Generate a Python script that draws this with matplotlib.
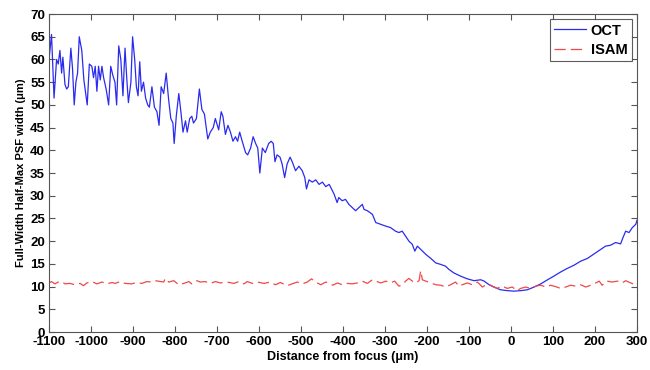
import matplotlib
matplotlib.use("Agg")
import matplotlib.pyplot as plt

oct_x = [-1100, -1094, -1088, -1082, -1078, -1074, -1070, -1067, -1062, -1058, -1054, -1048, -1044,
         -1040, -1036, -1032, -1028, -1022, -1017, -1009, -1004, -998, -994, -990, -986, -982,
         -978, -974, -970, -964, -958, -953, -948, -943, -939, -934, -929, -924, -919, -915,
         -911, -905, -901, -896, -892, -888, -884, -880, -875, -870, -865, -861, -855, -849,
         -843, -838, -833, -827, -821, -815, -810, -805, -802, -797, -791, -786, -781, -775,
         -771, -765, -760, -756, -749, -742, -736, -730, -722, -716, -709, -704, -696, -690,
         -686, -680, -674, -668, -662, -656, -651, -646, -640, -632, -627, -620, -614, -608,
         -603, -598, -592, -585, -577, -571, -566, -562, -557, -550, -545, -539, -533, -526,
         -521, -513, -505, -497, -491, -487, -481, -473, -465, -457, -449, -441, -433,
         -429, -421, -414, -410, -402, -394, -386, -378, -370, -362, -354, -350, -342, -330,
         -322, -310, -298, -287, -275, -267, -259, -251, -243, -235, -229, -223, -215, -203,
         -191, -179, -168, -156, -148, -136, -120, -104, -88, -72, -64, -52, -41, -25, -9,
         7, 23, 39, 55, 71, 87, 102, 118, 134, 150, 166, 182, 198, 214, 225, 237, 249, 261,
         265, 273, 281, 289, 297, 300]
oct_y = [60.0, 65.5, 51.5, 60.0, 59.0, 62.0, 57.0, 60.5, 54.5, 53.5, 54.0, 62.5, 58.0,
         50.0, 55.0, 57.0, 65.0, 62.0, 55.5, 50.0, 59.0, 58.5, 56.0, 58.5, 53.0, 58.5,
         55.5, 58.5, 56.0, 53.5, 50.0, 58.5, 56.5, 55.0, 50.0, 63.0, 60.0, 52.0, 62.5, 56.0,
         50.5, 55.0, 65.0, 60.0, 54.0, 52.0, 59.5, 53.0, 55.0, 51.5, 50.0, 49.5, 54.0, 49.5,
         48.5, 45.5, 54.0, 52.5, 57.0, 51.0, 47.0, 46.0, 41.5, 47.5, 52.5, 48.5, 44.0, 46.5,
         44.0, 47.0, 47.5, 46.0, 47.0, 53.5, 49.0, 48.0, 42.5, 44.0, 45.0, 47.0, 44.5, 48.5,
         47.5, 43.5, 45.5, 44.0, 42.0, 43.0, 42.0, 44.0, 42.0, 39.5, 39.0, 40.5, 43.0, 41.5,
         40.5, 35.0, 40.5, 39.5, 41.5, 42.0, 41.5, 37.5, 39.0, 38.5, 37.0, 34.0, 37.0, 38.5,
         37.5, 35.5, 36.5, 35.5, 34.0, 31.5, 33.5, 33.0, 33.5, 32.5, 33.0, 32.0, 32.5,
         31.8, 30.3, 28.5, 29.6, 28.9, 29.2, 28.1, 27.4, 26.7, 27.4, 28.1, 27.0, 26.7, 25.9,
         24.1, 23.7, 23.3, 23.0, 22.2, 21.9, 22.2, 21.1, 20.0, 19.3, 17.8, 18.9, 18.2, 17.1,
         16.2, 15.2, 14.9, 14.5, 13.8, 13.0, 12.3, 11.7, 11.3, 11.5, 11.2, 10.4, 9.9, 9.3, 9.1,
         9.0, 9.1, 9.3, 9.9, 10.6, 11.5, 12.3, 13.2, 14.0, 14.7, 15.6, 16.2, 17.2, 18.2, 18.9,
         19.1, 19.7, 19.4, 20.4, 22.2, 21.9, 23.0, 23.7, 24.6]

isam_x = [-1100, -1094, -1086, -1078, -1070, -1062, -1050, -1038, -1026, -1018, -1010, -998, -986,
          -974, -962, -950, -942, -931, -919, -903, -891, -879, -867, -855, -847, -827, -823,
          -815, -803, -791, -779, -767, -760, -748, -740, -728, -716, -704, -692, -676, -660,
          -648, -636, -628, -616, -604, -588, -573, -561, -549, -533, -521, -509, -497, -485,
          -475, -465, -453, -441, -429, -425, -413, -402, -390, -378, -366, -354, -342, -330,
          -322, -310, -298, -287, -277, -267, -259, -251, -243, -235, -227, -219, -215, -211,
          -203, -191, -179, -167, -156, -144, -132, -124, -116, -104, -92, -80, -68, -56, -44,
          -33, -21, -9, 3, 15, 23, 35, 47, 59, 71, 83, 94, 106, 118, 130, 142, 154, 166, 178,
          190, 202, 210, 217, 229, 241, 253, 265, 273, 285, 297, 300]
isam_y = [10.8, 11.1, 10.6, 11.0, 11.1, 10.6, 10.7, 10.4, 10.7, 10.2, 10.8, 11.1, 10.6,
          11.0, 10.6, 10.9, 10.7, 11.1, 10.7, 10.6, 10.9, 10.7, 11.1, 11.0, 11.3, 11.0, 11.8,
          11.0, 11.3, 10.4, 10.7, 11.1, 10.6, 11.3, 11.0, 11.1, 10.7, 11.1, 10.8, 11.0, 10.7,
          11.1, 10.6, 11.1, 10.7, 11.0, 10.7, 11.0, 10.4, 10.9, 10.2, 10.6, 11.0, 10.6, 11.0,
          11.7, 11.0, 10.4, 11.0, 10.6, 10.3, 10.8, 10.4, 10.7, 10.6, 10.8, 11.2, 10.7, 11.5,
          11.2, 10.8, 11.2, 10.8, 11.2, 10.1, 10.4, 11.2, 11.8, 11.2, 10.8, 11.3, 13.5, 11.5,
          11.2, 10.8, 10.4, 10.3, 9.9, 10.4, 11.0, 10.1, 10.4, 10.8, 10.4, 11.0, 9.9, 10.6, 10.1,
          9.6, 10.1, 9.6, 9.9, 9.1, 9.6, 9.9, 9.6, 10.1, 10.3, 9.9, 10.3, 10.0, 9.6, 9.9, 10.3,
          10.1, 10.4, 9.9, 10.3, 10.8, 11.2, 10.3, 11.2, 11.0, 11.2, 10.8, 11.3, 10.8, 10.4, 10.4]

x_ticks = [-1100, -1000, -900, -800, -700, -600, -500, -400, -300, -200, -100, 0, 100, 200, 300]
y_ticks = [0, 5, 10, 15, 20, 25, 30, 35, 40, 45, 50, 55, 60, 65, 70]

plt.rcParams['font.family'] = ['Liberation Sans', 'DejaVu Sans']
plt.rcParams['axes.unicode_minus'] = False

fig = plt.figure(figsize=(6.5, 3.7), dpi=100)
ax = fig.add_axes([0.0754, 0.1027, 0.9046, 0.8593])

ax.plot(oct_x, oct_y, color='#2b2bf0', lw=0.9, label='OCT')
ax.plot(isam_x, isam_y, color='#f04848', lw=0.9, dashes=(9, 4), label='ISAM')

ax.set_xlim(-1100, 300)
ax.set_ylim(0, 70)
ax.set_xticks(x_ticks)
ax.set_yticks(y_ticks)
ax.tick_params(direction='in', top=True, right=True, length=4, width=0.8,
               labelsize=9.5, pad=3, colors='#555555', labelcolor='black')
for lab in ax.get_xticklabels() + ax.get_yticklabels():
    lab.set_fontweight('bold')
for s in ax.spines.values():
    s.set_color('#555555')
    s.set_linewidth(0.8)

ax.set_xlabel('Distance from focus (μm)', fontsize=9, fontweight='bold', labelpad=2)
ax.set_ylabel('Full-Width Half-Max PSF width (μm)', fontsize=8, fontweight='bold', labelpad=3)

leg = ax.legend(loc='upper right', fontsize=10.5, frameon=True, fancybox=False,
                borderaxespad=0.35, handlelength=2.2, handletextpad=0.3,
                borderpad=0.3, labelspacing=0.35)
leg.get_frame().set_edgecolor('#333333')
leg.get_frame().set_linewidth(0.8)
for t in leg.get_texts():
    t.set_fontweight('bold')

fig.savefig('out.png', dpi=100)
